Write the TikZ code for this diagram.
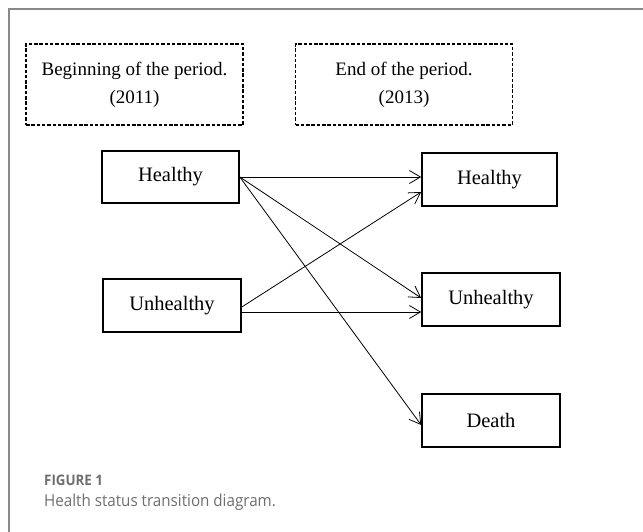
\documentclass[tikz,border=0pt]{standalone}
\usepackage{fontspec}
\setmainfont{Liberation Serif}
\newfontfamily\capfont[FakeStretch=0.92]{Open Sans}
\newfontfamily\figfont[FakeStretch=0.92]{Open Sans}
\usetikzlibrary{arrows.meta,calc}
\definecolor{framegray}{HTML}{8A8A8A}
\definecolor{capgray}{HTML}{6E6E6E}
\begin{document}
\begin{tikzpicture}[x=1pt,y=-1pt,
  period/.style={draw, line width=1.3pt, dash pattern=on 3.5pt off 1.8pt,
    minimum width=217pt, minimum height=81pt, align=center, inner sep=0pt,
    font=\fontsize{19}{28}\selectfont},
  state/.style={draw, line width=1.6pt, minimum height=52pt, inner sep=0pt,
    font=\fontsize{20.5}{24}\selectfont},
  trans/.style={line width=0.8pt, -{Straight Barb[length=11pt,width=13pt,line width=0.8pt]}}]
\useasboundingbox (0,0) rectangle (643,532);
\draw[framegray, line width=2pt] (9,540) -- (9,9) -- (650,9);
\node[period] (pb) at (134.5,84.5) {Beginning of the period.\\(2011)};
\node[period] (pe) at (404,84.5) {End of the period.\\(2013)};
\node[state, minimum width=137pt] (hl) at (170.5,177) {Healthy};
\node[state, minimum width=138pt, minimum height=53pt] (ul) at (172,305.5) {Unhealthy};
\node[state, minimum width=135pt, minimum height=53pt] (hr) at (489.5,179.5) {Healthy};
\node[state, minimum width=138pt, minimum height=53pt] (ur) at (491,299.5) {Unhealthy};
\node[state, minimum width=138pt, minimum height=53pt] (dr) at (491,420.5) {Death};
\draw[trans] (hl.east) -- ($(hr.west)+(0,-2.5)$);
\draw[trans] (hl.east) -- ($(ur.west)+(0,-1.5)$);
\draw[trans] (hl.east) -- ($(dr.west)+(0,4.5)$);
\draw[trans] ($(ul.east)+(0,1.5)$) -- ($(hr.west)+(0,12.5)$);
\draw[trans] ($(ul.east)+(0,6.5)$) -- ($(ur.west)+(0,12.5)$);
\node[anchor=base west, text=capgray, font=\figfont\fontsize{14.5}{16}\selectfont\bfseries, inner sep=0pt] (fig) at (44,485) {FIGURE 1};
\node[anchor=base west, text=capgray, font=\capfont\fontsize{16.5}{19}\selectfont, inner sep=0pt] (cap) at (44,506) {Health status transition diagram.};
\end{tikzpicture}
\end{document}
